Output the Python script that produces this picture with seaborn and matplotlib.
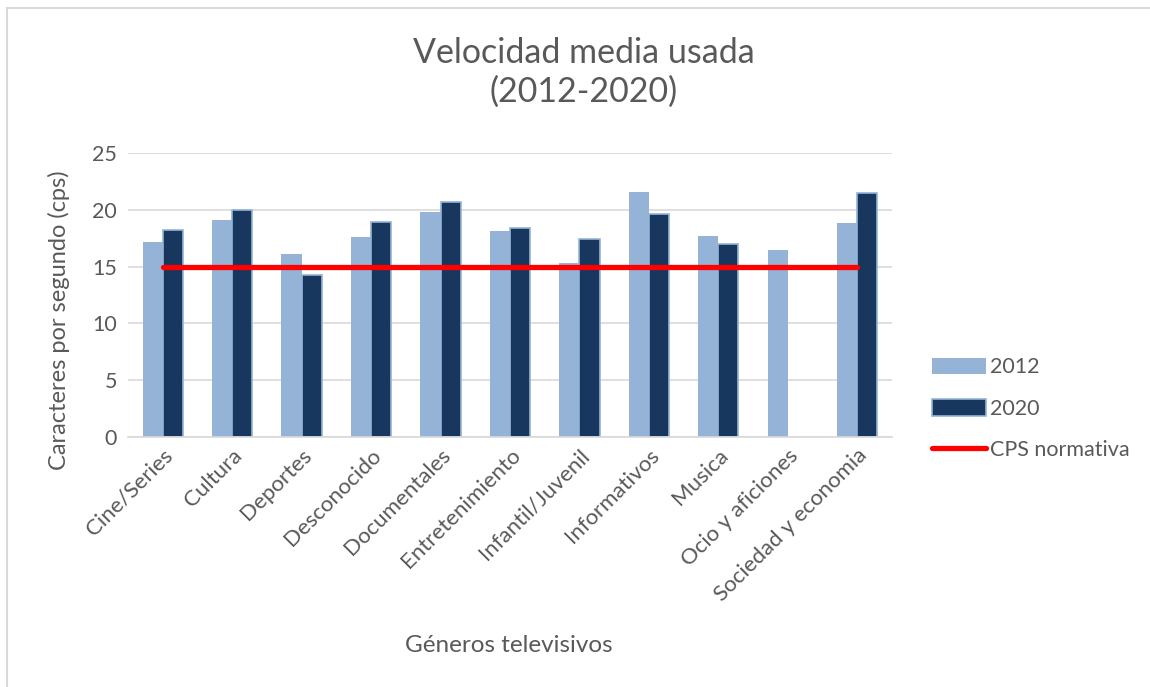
import matplotlib
matplotlib.use("Agg")
import matplotlib.pyplot as plt
import matplotlib.patches as mpatches
from matplotlib.lines import Line2D
import numpy as np
import pandas as pd
import seaborn as sns

# Average subtitle speed per TV genre
generos = ["Cine/Series", "Cultura", "Deportes", "Desconocido", "Documentales",
           "Entretenimiento", "Infantil/Juvenil", "Informativos", "Musica",
           "Ocio y aficiones", "Sociedad y economia"]
cps_2012 = [17.2, 19.1, 16.1, 17.6, 19.8, 18.1, 15.3, 21.6, 17.7, 16.5, 18.8]
cps_2020 = [18.2, 20.0, 14.3, 18.9, 20.7, 18.4, 17.4, 19.6, 17.0, np.nan, 21.5]
anios = ["2012", "2020"]
cps_normativa = 15

df = pd.DataFrame({
    "genero": generos * 2,
    "anio": [anios[0]] * len(generos) + [anios[1]] * len(generos),
    "cps": cps_2012 + cps_2020,
}).dropna()

light = "#95b3d7"
dark = "#17375e"
text_col = "#595959"

sns.set_theme(style="white")
plt.rcParams["font.family"] = ["Lato", "DejaVu Sans"]

fig = plt.figure(figsize=(11.5, 6.87), dpi=100)
ax = fig.add_axes([0.1113, 0.3639, 0.6643, 0.4134])

sns.barplot(data=df, x="genero", y="cps", hue="anio", order=generos,
            hue_order=anios, palette=[light, dark], width=0.58,
            gap=0, ax=ax, legend=False, saturation=1)

for bar in ax.patches:
    fc = bar.get_facecolor()
    if np.allclose(fc[:3], matplotlib.colors.to_rgb(dark)):
        bar.set_edgecolor(light)
        bar.set_linewidth(1.2)
    else:
        bar.set_edgecolor("none")

xs = np.arange(len(generos))
ax.plot(xs, [cps_normativa] * len(generos), color="#ff0000", lw=3.8,
        solid_capstyle="round", zorder=5)

ax.set_ylim(0, 25)
ax.set_yticks(range(0, 26, 5))
ax.set_xlim(-0.5, len(generos) - 0.5)
ax.yaxis.grid(True, color="#d9d9d9", lw=1.2)
ax.set_axisbelow(True)
for s in ["top", "right", "left"]:
    ax.spines[s].set_visible(False)
ax.spines["bottom"].set_color("#d9d9d9")
ax.spines["bottom"].set_linewidth(1.2)

ax.tick_params(axis="y", colors=text_col, labelsize=15.5, length=0, pad=8)
ax.tick_params(axis="x", colors=text_col, labelsize=16, length=0, pad=6)
plt.setp(ax.get_xticklabels(), rotation=45, ha="right", rotation_mode="anchor")

ax.set_ylabel("Caracteres por segundo (cps)", fontsize=17, color=text_col)
ax.yaxis.set_label_coords(59 / 1150, 1 - 320 / 687, transform=fig.transFigure)
ax.yaxis.label.set_va("center")
ax.set_xlabel("")
fig.text(509 / 1150, 1 - 646 / 687, "Géneros televisivos", fontsize=17.5,
         color=text_col, ha="center", va="center")

fig.text(584 / 1150, 1 - 72 / 687, "Velocidad media usada\n(2012-2020)", fontsize=24.5,
         color=text_col, ha="center", va="center", linespacing=1.25)

handles = [mpatches.Patch(facecolor=light, edgecolor="none", label="2012"),
           mpatches.Patch(facecolor=dark, edgecolor=light, lw=1.2, label="2020"),
           Line2D([0], [0], color="#ff0000", lw=3.8, solid_capstyle="round",
                  label="CPS normativa")]
fig.legend(handles=handles, loc="center left", bbox_to_anchor=(0.794, 0.405),
           frameon=False, fontsize=15.5, labelcolor=text_col, labelspacing=1.0,
           handlelength=2.5, handleheight=0.8, handletextpad=0.15)

# light outer frame
fig.patches.append(mpatches.Rectangle((7 / 1150, -0.05), 1.2, 1 - 8 / 687 + 0.05,
                                      transform=fig.transFigure, fill=False,
                                      edgecolor="#d9d9d9", lw=1.5))

fig.savefig("out.png", dpi=100, facecolor="white")
